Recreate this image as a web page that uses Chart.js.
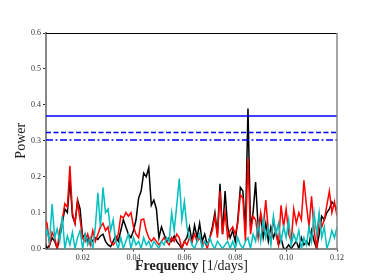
<!DOCTYPE html>
<html>
<head>
<meta charset="utf-8">
<script src="https://cdn.jsdelivr.net/npm/chart.js@4.4.0/dist/chart.umd.min.js"></script>
<style>
  html, body { margin: 0; padding: 0; background: #fff; }
  #wrap { width: 374px; height: 280px; }
</style>
</head>
<body>
<div id="wrap"><canvas id="mycanvas" width="374" height="280"></canvas></div>
<script>
// frequencies 0.005 .. 0.120, step 0.001
var freqStart = 0.005;
var freqStep = 0.001;

var powerBlack = [
  0.02, 0.0, 0.01, 0.03, 0.02, 0.0, 0.03, 0.07, 0.11, 0.10,
  0.19, 0.09, 0.07, 0.135, 0.11, 0.03, 0.04, 0.02, 0.03, 0.02,
  0.03, 0.025, 0.035, 0.04, 0.02, 0.01, 0.005, 0.02, 0.035, 0.02,
  0.05, 0.08, 0.06, 0.04, 0.03, 0.05, 0.08, 0.14, 0.16, 0.21,
  0.20, 0.225, 0.12, 0.135, 0.11, 0.03, 0.06, 0.04, 0.02, 0.03,
  0.02, 0.035, 0.02, 0.01, 0.0, 0.02, 0.03, 0.06, 0.02, 0.065,
  0.03, 0.07, 0.02, 0.04, 0.01, 0.03, 0.06, 0.10, 0.04, 0.18,
  0.04, 0.16, 0.06, 0.03, 0.05, 0.02, 0.08, 0.17, 0.16, 0.05,
  0.39, 0.06, 0.10, 0.185, 0.06, 0.09, 0.03, 0.07, 0.02, 0.06,
  0.03, 0.05, 0.01, 0.03, 0.0, 0.0, 0.01, 0.0, 0.01, 0.02,
  0.0, 0.03, 0.01, 0.02, 0.01, 0.05, 0.02, 0.0, 0.04, 0.09,
  0.08, 0.10, 0.11, 0.13, 0.12, 0.11
];

var powerRed = [
  0.08, 0.07, 0.01, 0.045, 0.03, 0.0, 0.05, 0.08, 0.125, 0.115,
  0.23, 0.10, 0.07, 0.13, 0.08, 0.03, 0.02, 0.04, 0.01, 0.05,
  0.02, 0.04, 0.06, 0.07, 0.05, 0.06, 0.02, 0.01, 0.02, 0.04,
  0.09, 0.085, 0.10, 0.09, 0.10, 0.06, 0.04, 0.03, 0.08, 0.082,
  0.05, 0.03, 0.02, 0.03, 0.02, 0.01, 0.02, 0.03, 0.02, 0.01,
  0.03, 0.02, 0.04, 0.03, 0.0, 0.02, 0.01, 0.03, 0.02, 0.04,
  0.02, 0.03, 0.01, 0.02, 0.0, 0.03, 0.05, 0.09, 0.03, 0.16,
  0.04, 0.10, 0.03, 0.05, 0.06, 0.04, 0.07, 0.15, 0.14, 0.02,
  0.25, 0.04, 0.09, 0.08, 0.03, 0.10, 0.06, 0.135, 0.05, 0.02,
  0.08, 0.04, 0.01, 0.12, 0.06, 0.11, 0.04, 0.02, 0.11, 0.07,
  0.10, 0.08, 0.19, 0.12, 0.06, 0.145, 0.05, 0.0, 0.09, 0.06,
  0.08, 0.12, 0.16, 0.10, 0.13, 0.09
];

var powerCyan = [
  0.03, 0.05, 0.02, 0.124, 0.03, 0.055, 0.02, 0.09, 0.0, 0.035,
  0.01, 0.045, 0.0, 0.03, 0.05, 0.0, 0.04, 0.01, 0.03, 0.0,
  0.06, 0.155, 0.06, 0.17, 0.10, 0.11, 0.05, 0.08, 0.02, 0.0,
  0.03, 0.0, 0.02, 0.04, 0.0, 0.03, 0.01, 0.02, 0.0, 0.03,
  0.01, 0.02, 0.0, 0.02, 0.01, 0.0, 0.02, 0.01, 0.03, 0.02,
  0.10, 0.05, 0.12, 0.195, 0.08, 0.13, 0.06, 0.03, 0.01, 0.0,
  0.02, 0.04, 0.0, 0.02, 0.01, 0.03, 0.01, 0.0, 0.02, 0.01,
  0.0, 0.01, 0.02, 0.0, 0.02, 0.0, 0.03, 0.01, 0.0, 0.02,
  0.03, 0.0, 0.04, 0.02, 0.07, 0.02, 0.08, 0.03, 0.06, 0.01,
  0.09, 0.04, 0.07, 0.02, 0.06, 0.03, 0.08, 0.01, 0.04, 0.02,
  0.05, 0.0, 0.03, 0.01, 0.06, 0.02, 0.10, 0.04, 0.10, 0.03,
  0.06, 0.0, 0.02, 0.05, 0.03, 0.06
];

// false alarm levels (solid, dashed, dash-dot)
var levels = [0.369, 0.323, 0.302];

var xMin = 0.0056, xMax = 0.12;
var yMin = 0.0, yMax = 0.6;
var xTicks = [0.02, 0.04, 0.06, 0.08, 0.10, 0.12];
var yTicks = [0.0, 0.1, 0.2, 0.3, 0.4, 0.5, 0.6];
var xTitleBold = 'Frequency';
var xTitleUnit = '[1/days]';

function toPoints(arr) {
  var pts = [];
  for (var i = 0; i < arr.length; i++) {
    pts.push({x: freqStart + i * freqStep, y: arr[i]});
  }
  return pts;
}

function levelLine(v) {
  return [{x: xMin, y: v}, {x: xMax, y: v}];
}

var serif = "'Liberation Serif', 'DejaVu Serif', serif";

// frame: black top, grey right (left/bottom come from the axis borders)
// plus the x title, bold word + regular unit
var framePlugin = {
  id: 'frame',
  afterDraw: function(chart) {
    var a = chart.chartArea, ctx = chart.ctx;
    ctx.save();
    ctx.strokeStyle = '#000';
    ctx.lineWidth = 1;
    ctx.beginPath();
    ctx.moveTo(a.left, a.top + 0.5);
    ctx.lineTo(a.right, a.top + 0.5);
    ctx.stroke();
    ctx.strokeStyle = '#888';
    ctx.lineWidth = 1.5;
    ctx.beginPath();
    ctx.moveTo(a.right, a.top);
    ctx.lineTo(a.right, a.bottom);
    ctx.stroke();

    var bold = 'bold 14px ' + serif, reg = '14px ' + serif;
    ctx.fillStyle = '#222';
    ctx.textBaseline = 'alphabetic';
    ctx.textAlign = 'left';
    ctx.font = bold;
    var w1 = ctx.measureText(xTitleBold + ' ').width;
    ctx.font = reg;
    var w2 = ctx.measureText(xTitleUnit).width;
    var x0 = (a.left + a.right) / 2 - (w1 + w2) / 2;
    ctx.font = bold;
    ctx.fillText(xTitleBold + ' ', x0, 270);
    ctx.font = reg;
    ctx.fillText(xTitleUnit, x0 + w1, 270);
    ctx.restore();
  }
};

var ctx = document.getElementById('mycanvas');

var chartdata = {
  datasets: [
    { data: toPoints(powerCyan), borderColor: '#00bfbf', borderWidth: 1.5, order: 2 },
    { data: toPoints(powerRed), borderColor: '#ff0000', borderWidth: 1.5, order: 3 },
    { data: toPoints(powerBlack), borderColor: '#000000', borderWidth: 1.5, order: 4 },
    { data: levelLine(levels[0]), borderColor: '#0000ff', borderWidth: 1.4, order: 1 },
    { data: levelLine(levels[1]), borderColor: '#0000ff', borderWidth: 1.4, borderDash: [5, 2.5], order: 1 },
    { data: levelLine(levels[2]), borderColor: '#0000ff', borderWidth: 1.4, borderDash: [7, 2.5, 2, 2.5], order: 1 }
  ]
};

var periodogram = new Chart(ctx, {
  type: 'line',
  data: chartdata,
  options: {
    responsive: false,
    animation: false,
    layout: { padding: { top: 33, right: 37, left: 0, bottom: 0 } },
    elements: { point: { radius: 0 }, line: { tension: 0, fill: false } },
    plugins: { legend: { display: false }, tooltip: { enabled: false } },
    scales: {
      x: {
        type: 'linear',
        min: xMin,
        max: xMax,
        afterBuildTicks: function(scale) {
          scale.ticks = xTicks.map(function(v) { return {value: v}; });
        },
        afterFit: function(scale) { scale.height = 31.5; },
        ticks: {
          font: { family: serif, size: 8 },
          color: '#333',
          padding: 2,
          maxRotation: 0,
          callback: function(v) { return Number(v).toFixed(2); }
        },
        grid: { drawOnChartArea: false, drawTicks: true, tickLength: 3, color: '#333' },
        border: { color: '#888', width: 2 },
        title: { display: false }
      },
      y: {
        min: yMin,
        max: yMax,
        afterBuildTicks: function(scale) {
          scale.ticks = yTicks.map(function(v) { return {value: v}; });
        },
        afterFit: function(scale) { scale.width = 46; },
        ticks: {
          font: { family: serif, size: 8 },
          color: '#333',
          padding: 2,
          callback: function(v) { return Number(v).toFixed(1); }
        },
        grid: { drawOnChartArea: false, drawTicks: true, tickLength: 3, color: '#333' },
        border: { color: '#888', width: 2 },
        title: {
          display: true,
          text: 'Power',
          font: { family: serif, size: 14 },
          color: '#222',
          padding: { top: 13, bottom: 0 }
        }
      }
    }
  },
  plugins: [framePlugin]
});
</script>
</body>
</html>
